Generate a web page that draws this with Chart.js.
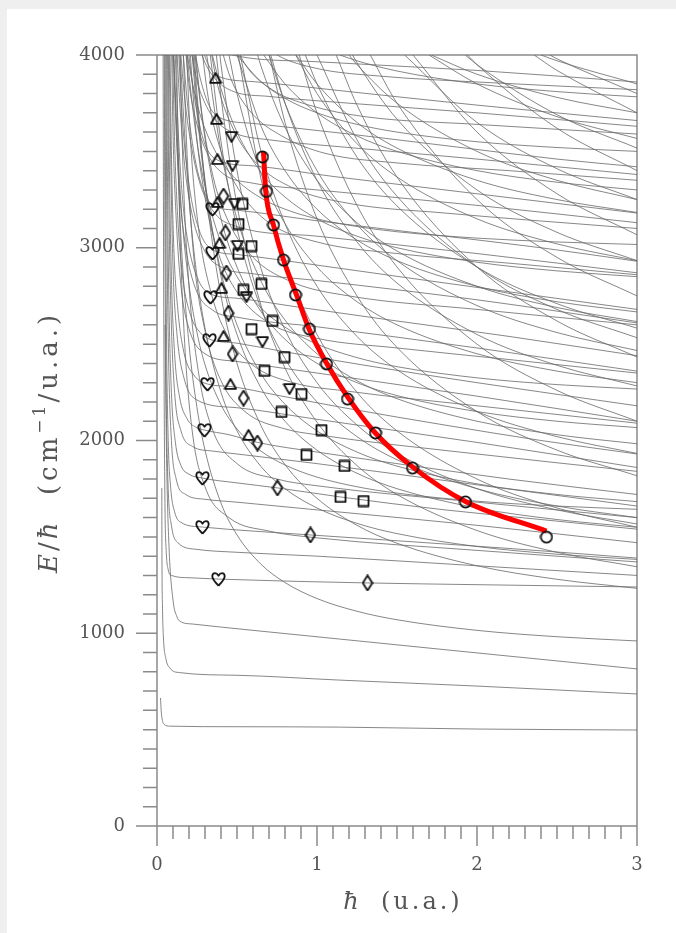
<!DOCTYPE html>
<html><head><meta charset="utf-8">
<script src="https://cdn.jsdelivr.net/npm/chart.js@4"></script>
<style>
html,body{margin:0;padding:0;background:#efefef;overflow:hidden;}
#panel{position:absolute;left:7px;top:9px;width:669px;height:924px;background:#fff;}
#c{position:absolute;left:0;top:0;}
</style></head><body><div id="panel"></div><canvas id="c" width="676" height="933"></canvas>
<script>
// ---- axis ranges / tick labels ----
const xTickValues = [0, 1, 2, 3];
const yTickValues = [0, 1000, 2000, 3000, 4000];

// ---- gray level curves: flat-ish levels [hbar, E/hbar] ----
const H1 = [[0.022,664],[0.026,600],[0.032,555],[0.045,527],[0.08,518],[0.5,515],[1.14,513],[2.0,503],[3.0,498]];
const H2 = [[0.030,1753],[0.031,1400],[0.034,1150],[0.04,980],[0.055,870],[0.08,820],[0.14,796],[0.5,782],[1.14,757],[2.0,726],[3.0,685]];
const H3 = [[0.05,2600],[0.06,1900],[0.075,1450],[0.1,1172],[0.125,1085],[0.153,1058],[0.22,1048],[0.6,1015],[1.14,970],[2.0,898],[3.0,815]];
const H4 = [[0.038,4100],[0.041,3000],[0.045,2200],[0.05,1650],[0.058,1420],[0.07,1330],[0.09,1300],[0.2,1288],[0.384,1281],[1.316,1261],[2.0,1252],[3.0,1240]];
const H5 = [[0.05,4100],[0.054,3200],[0.06,2500],[0.07,2000],[0.085,1760],[0.11,1630],[0.15,1575],[0.284,1551],[0.6,1530],[0.959,1510],[1.5,1480],[2.2,1440],[3.0,1390]];
const H6 = [[0.06,4100],[0.066,3300],[0.075,2700],[0.09,2250],[0.115,1990],[0.15,1870],[0.2,1825],[0.284,1805],[0.5,1780],[0.753,1754],[1.147,1707],[1.8,1640],[2.4,1590],[3.0,1540]];
const H7 = [[0.07,4100],[0.078,3400],[0.09,2850],[0.11,2450],[0.14,2230],[0.19,2110],[0.24,2070],[0.297,2054],[0.45,2030],[0.628,1990],[1.0,1940],[1.5,1880],[2.2,1800],[3.0,1720]];
const H8 = [[0.08,4100],[0.09,3500],[0.105,3000],[0.13,2680],[0.17,2450],[0.23,2340],[0.316,2293],[0.459,2280],[0.75,2235],[1.2,2165],[1.8,2080],[2.4,2000],[3.0,1930]];
const H9 = [[0.095,4100],[0.11,3550],[0.13,3150],[0.16,2850],[0.21,2650],[0.27,2560],[0.33,2525],[0.5,2505],[0.8,2460],[1.3,2390],[2.0,2300],[3.0,2180]];
const H10 = [[0.11,4100],[0.13,3650],[0.16,3250],[0.2,3000],[0.26,2830],[0.335,2760],[0.5,2738],[0.9,2690],[1.5,2620],[2.2,2540],[3.0,2440]];
const H11 = [[0.13,4100],[0.16,3650],[0.2,3330],[0.26,3100],[0.347,2990],[0.5,2965],[1.0,2910],[1.6,2840],[2.3,2760],[3.0,2680]];
const H12 = [[0.155,4100],[0.19,3750],[0.24,3450],[0.3,3280],[0.36,3215],[0.5,3195],[1.0,3140],[1.7,3070],[2.4,3000],[3.0,2930]];
const H13 = [[0.185,4100],[0.23,3800],[0.29,3560],[0.378,3455],[0.6,3425],[1.1,3370],[1.8,3300],[2.5,3230],[3.0,3180]];
const H14 = [[0.22,4100],[0.27,3880],[0.33,3730],[0.4,3672],[0.6,3645],[1.2,3590],[1.9,3520],[2.5,3460],[3.0,3420]];
const H15 = [[0.26,4100],[0.31,3970],[0.37,3895],[0.6,3862],[1.2,3810],[2.0,3740],[3.0,3660]];

// ---- more flat levels read between the marked ones ----
const F1 = [[0.045,4100],[0.05,3000],[0.058,2200],[0.07,1750],[0.09,1560],[0.13,1470],[0.25,1435],[0.5,1420],[1.0,1400],[2.0,1350],[3.0,1300]];
const F2 = [[0.055,4100],[0.062,3100],[0.072,2450],[0.09,2000],[0.12,1800],[0.18,1720],[0.3,1695],[0.5,1680],[1.0,1640],[2.0,1560],[3.0,1470]];
const F3 = [[0.065,4100],[0.075,3200],[0.088,2650],[0.11,2250],[0.15,2050],[0.22,1970],[0.35,1945],[0.5,1930],[1.0,1880],[2.0,1770],[3.0,1660]];
const F4 = [[0.075,4100],[0.087,3400],[0.1,2900],[0.125,2550],[0.17,2320],[0.25,2210],[0.5,2170],[1.0,2110],[2.0,1990],[3.0,1860]];
const F5 = [[0.09,4100],[0.1,3600],[0.12,3150],[0.15,2800],[0.2,2580],[0.3,2450],[0.5,2410],[1.0,2350],[2.0,2230],[3.0,2100]];
const F6 = [[0.1,4100],[0.115,3700],[0.14,3300],[0.18,3000],[0.24,2790],[0.35,2675],[0.5,2640],[1.0,2590],[2.0,2480],[3.0,2360]];
const F7 = [[0.12,4100],[0.14,3780],[0.17,3450],[0.22,3170],[0.3,2980],[0.4,2900],[0.6,2865],[1.0,2830],[2.0,2730],[3.0,2610]];
const F8 = [[0.14,4100],[0.17,3800],[0.21,3550],[0.27,3330],[0.36,3180],[0.5,3110],[1.0,3060],[2.0,2970],[3.0,2870]];
const F9 = [[0.17,4100],[0.2,3850],[0.25,3640],[0.32,3480],[0.42,3380],[0.6,3335],[1.0,3300],[2.0,3220],[3.0,3130]];
const F10 = [[0.2,4100],[0.24,3900],[0.3,3750],[0.38,3650],[0.5,3590],[0.7,3560],[1.2,3520],[2.0,3460],[3.0,3380]];
const F11 = [[0.24,4100],[0.3,3960],[0.37,3870],[0.48,3810],[0.7,3785],[1.2,3750],[2.0,3700],[3.0,3630]];
const F12 = [[0.3,4100],[0.38,4030],[0.5,3995],[1.0,3965],[2.0,3920],[3.0,3860]];
const G1 = [[0.12,4100],[0.14,3200],[0.17,2550],[0.22,2050],[0.3,1760],[0.45,1600],[0.7,1530],[1.0,1495],[2.0,1430],[3.0,1370]];
const G2 = [[0.14,4100],[0.165,3350],[0.2,2800],[0.26,2350],[0.35,2050],[0.5,1880],[0.75,1800],[1.0,1765],[2.0,1680],[3.0,1600]];
const G3 = [[0.16,4100],[0.19,3450],[0.23,2950],[0.3,2570],[0.4,2310],[0.55,2150],[0.8,2060],[1.0,2030],[2.0,1930],[3.0,1840]];
const G4 = [[0.18,4100],[0.21,3550],[0.26,3100],[0.34,2760],[0.45,2530],[0.6,2390],[0.85,2300],[1.2,2255],[2.0,2180],[3.0,2090]];
const G5 = [[0.2,4100],[0.24,3640],[0.3,3260],[0.38,2980],[0.5,2770],[0.7,2610],[1.0,2530],[1.5,2480],[2.2,2420],[3.0,2350]];
const G6 = [[0.23,4100],[0.28,3700],[0.35,3370],[0.45,3130],[0.6,2950],[0.85,2820],[1.2,2750],[2.0,2680],[3.0,2600]];
const G7 = [[0.27,4100],[0.32,3780],[0.4,3500],[0.52,3290],[0.7,3130],[1.0,3030],[1.5,2970],[2.2,2920],[3.0,2860]];
const G8 = [[0.32,4100],[0.38,3840],[0.48,3610],[0.62,3440],[0.85,3310],[1.2,3230],[1.8,3180],[3.0,3100]];
const G9 = [[0.38,4100],[0.46,3880],[0.58,3710],[0.78,3580],[1.05,3490],[1.5,3440],[2.2,3400],[3.0,3350]];
const G10 = [[0.46,4100],[0.56,3940],[0.72,3820],[0.95,3740],[1.3,3680],[2.0,3640],[3.0,3590]];
const G11 = [[0.6,4100],[0.75,4000],[1.0,3930],[1.4,3890],[2.0,3860],[3.0,3820]];

// ---- gray level curves: descending diagonal family ----
const D1 = [[0.105,4000],[0.15,3050],[0.2,2500],[0.25,2170],[0.3,1950],[0.4,1675],[0.5,1510],[0.65,1358],[0.8,1263],[1.0,1180],[1.25,1114],[1.5,1070],[2.0,1015],[2.5,982],[3.0,960]];
const D2 = [[0.371,4000],[0.4,3783],[0.5,3220],[0.65,2701],[0.8,2376],[1.0,2095],[1.25,1870],[1.5,1720],[2.0,1533],[2.5,1420],[3.0,1345]];
const D3 = [[0.233,4000],[0.25,3800],[0.3,3333],[0.4,2750],[0.5,2400],[0.65,2077],[0.8,1875],[1.0,1700],[1.25,1560],[1.5,1467],[2.0,1350],[2.5,1280],[3.0,1233]];
const D4 = [[0.508,4000],[0.65,3358],[0.8,2925],[1.0,2550],[1.25,2250],[1.5,2050],[2.0,1800],[2.5,1650],[3.0,1550]];
const D5 = [[0.145,4000],[0.15,3917],[0.2,3250],[0.25,2850],[0.3,2583],[0.4,2250],[0.5,2050],[0.65,1865],[0.8,1750],[1.0,1650],[1.25,1570],[1.5,1517],[2.0,1450],[2.5,1410],[3.0,1383]];
const D6 = [[0.333,4000],[0.4,3550],[0.5,3100],[0.65,2685],[0.8,2425],[1.0,2200],[1.25,2020],[1.5,1900],[2.0,1750],[2.5,1660],[3.0,1600]];
const D7 = [[0.702,4000],[0.8,3650],[1.0,3150],[1.25,2750],[1.5,2483],[2.0,2150],[2.5,1950],[3.0,1817]];
const D8 = [[0.22,4000],[0.25,3700],[0.3,3333],[0.4,2875],[0.5,2600],[0.65,2346],[0.8,2188],[1.0,2050],[1.25,1940],[1.5,1867],[2.0,1775],[2.5,1720],[3.0,1683]];
const D9 = [[0.52,4000],[0.65,3500],[0.8,3125],[1.0,2800],[1.25,2540],[1.5,2367],[2.0,2150],[2.5,2020],[3.0,1933]];
const D10 = [[0.889,4000],[1.0,3700],[1.25,3220],[1.5,2900],[2.0,2500],[2.5,2260],[3.0,2100]];
const D11 = [[0.311,4000],[0.4,3500],[0.5,3150],[0.65,2827],[0.8,2625],[1.0,2450],[1.25,2310],[1.5,2217],[2.0,2100],[2.5,2030],[3.0,1983]];
const D12 = [[0.711,4000],[0.8,3750],[1.0,3350],[1.25,3030],[1.5,2817],[2.0,2550],[2.5,2390],[3.0,2283]];
const D13 = [[1.12,4000],[1.25,3740],[1.5,3367],[2.0,2900],[2.5,2620],[3.0,2433]];
const D14 = [[0.45,4000],[0.5,3800],[0.65,3385],[0.8,3125],[1.0,2900],[1.25,2720],[1.5,2600],[2.0,2450],[2.5,2360],[3.0,2300]];
const D15 = [[0.927,4000],[1.0,3850],[1.25,3470],[1.5,3217],[2.0,2900],[2.5,2710],[3.0,2583]];
const D16 = [[1.333,4000],[1.5,3750],[2.0,3250],[2.5,2950],[3.0,2750]];
const D17 = [[0.629,4000],[0.65,3942],[0.8,3625],[1.0,3350],[1.25,3130],[1.5,2983],[2.0,2800],[2.5,2690],[3.0,2617]];
const D18 = [[1.222,4000],[1.25,3960],[1.5,3667],[2.0,3300],[2.5,3080],[3.0,2933]];
const D19 = [[1.6,4000],[2.0,3600],[2.5,3280],[3.0,3067]];
const D20 = [[0.867,4000],[1.0,3800],[1.25,3540],[1.5,3367],[2.0,3150],[2.5,3020],[3.0,2933]];
const D21 = [[1.548,4000],[2.0,3650],[2.5,3410],[3.0,3250]];
const D22 = [[1.941,4000],[2.0,3950],[2.5,3620],[3.0,3400]];
const D23 = [[1.2,4000],[1.25,3950],[1.5,3750],[2.0,3500],[2.5,3350],[3.0,3250]];
const D24 = [[1.926,4000],[2.0,3950],[2.5,3690],[3.0,3517]];
const D25 = [[2.357,4000],[2.5,3920],[3.0,3700]];
const D26 = [[1.7,4000],[2.0,3850],[2.5,3680],[3.0,3567]];
const D27 = [[2.455,4000],[2.5,3980],[3.0,3800]];
const D28 = [[2.4,4000],[2.5,3970],[3.0,3850]];
const D29 = [[0.102,4000],[0.15,3227],[0.2,2810],[0.25,2560],[0.3,2393],[0.4,2185],[0.5,2060],[0.65,1945],[0.8,1873],[1.0,1810],[1.25,1760],[1.5,1727],[2.0,1685],[2.5,1660],[3.0,1643]];
const D30 = [[0.189,4000],[0.2,3900],[0.25,3550],[0.3,3317],[0.4,3025],[0.5,2850],[0.65,2688],[0.8,2588],[1.0,2500],[1.25,2430],[1.5,2383],[2.0,2325],[2.5,2290],[3.0,2267]];
const D31 = [[0.346,4000],[0.4,3825],[0.5,3600],[0.65,3392],[0.8,3263],[1.0,3150],[1.25,3060],[1.5,3000],[2.0,2925],[2.5,2880],[3.0,2850]];
const D32 = [[0.667,4000],[0.8,3850],[1.0,3700],[1.25,3580],[1.5,3500],[2.0,3400],[2.5,3340],[3.0,3300]];
const D33 = [[0.5,4000],[0.65,3862],[0.8,3775],[1.0,3700],[1.25,3640],[1.5,3600],[2.0,3550],[2.5,3520],[3.0,3500]];
const D34 = [[0.19,4000],[0.2,3950],[0.25,3750],[0.3,3617],[0.4,3450],[0.5,3350],[0.65,3258],[0.8,3200],[1.0,3150],[1.25,3110],[1.5,3083],[2.0,3050],[2.5,3030],[3.0,3017]];
const D35 = [[0.238,4000],[0.25,3900],[0.3,3567],[0.4,3150],[0.5,2900],[0.65,2669],[0.8,2525],[1.0,2400],[1.25,2300],[1.5,2233],[2.0,2150],[2.5,2100],[3.0,2067]];
const D36 = [[0.5,4000],[0.65,3631],[0.8,3400],[1.0,3200],[1.25,3040],[1.5,2933],[2.0,2800],[2.5,2720],[3.0,2667]];
const D37 = [[0.87,4000],[1.0,3850],[1.25,3650],[1.5,3517],[2.0,3350],[2.5,3250],[3.0,3183]];
const D38 = [[1.714,4000],[2.0,3900],[2.5,3780],[3.0,3700]];
const D39 = [[1.143,4000],[1.25,3970],[1.5,3917],[2.0,3850],[2.5,3810],[3.0,3783]];
const D40 = [[0.393,4000],[0.4,3950],[0.5,3400],[0.65,2892],[0.8,2575],[1.0,2300],[1.25,2080],[1.5,1933],[2.0,1750],[2.5,1640],[3.0,1567]];
const D41 = [[1.0,4000],[1.25,3560],[1.5,3267],[2.0,2900],[2.5,2680],[3.0,2533]];
const D42 = [[0.7,4000],[0.8,3750],[1.0,3400],[1.25,3120],[1.5,2933],[2.0,2700],[2.5,2560],[3.0,2467]];
const D43 = [[0.226,4000],[0.25,3750],[0.3,3350],[0.4,2850],[0.5,2550],[0.65,2273],[0.8,2100],[1.0,1950],[1.25,1830],[1.5,1750],[2.0,1650],[2.5,1590],[3.0,1550]];

// ---- red curve ----
const redX = [0.666,0.678,0.728,0.791,0.872,0.953,1.059,1.191,1.359,1.597,1.934,2.434];
const redY = [3497,3310,3118,2936,2755,2573,2402,2226,2044,1863,1681,1530];

// ---- markers ----
const heartX = [0.384,0.284,0.284,0.297,0.316,0.328,0.334,0.347,0.347];
const heartY = [1281,1551,1805,2054,2293,2521,2744,2973,3201];
const diamondX = [1.316,0.959,0.753,0.628,0.541,0.472,0.447,0.434,0.428,0.416];
const diamondY = [1261,1510,1754,1987,2220,2449,2661,2869,3077,3268];
const upTriX = [0.366,0.372,0.378,0.378,0.391,0.403,0.416,0.459,0.572];
const upTriY = [3881,3668,3460,3237,3025,2791,2542,2293,2029];
const downTriX = [0.466,0.472,0.484,0.503,0.559,0.659,0.828];
const downTriY = [3575,3425,3228,3010,2744,2511,2267];
const squareX = [0.534,0.509,0.591,0.509,0.653,0.541,0.722,0.591,0.797,0.672,0.903,0.778,1.028,0.934,1.172,1.147,1.291];
const squareY = [3227,3123,3009,2968,2812,2781,2620,2578,2433,2361,2241,2148,2054,1925,1868,1707,1686];
const circleX = [0.659,0.684,0.728,0.791,0.866,0.953,1.059,1.191,1.366,1.597,1.928,2.434];
const circleY = [3471,3292,3118,2936,2755,2578,2397,2215,2039,1857,1681,1499];

const levelCurves = [H1,H2,H3,H4,H5,H6,H7,H8,H9,H10,H11,H12,H13,H14,H15,
  F1,F2,F3,F4,F5,F6,F7,F8,F9,F10,F11,F12,G1,G2,G3,G4,G5,G6,G7,G8,G9,G10,G11,
  D1,D2,D3,D4,D5,D6,D7,D8,D9,D10,D11,D12,D13,D14,D15,D16,D17,D18,D19,D20,D21,D22,
  D23,D24,D25,D26,D27,D28,D29,D30,D31,D32,D33,D34,D35,D36,D37,D38,D39,D40,D41,D42,D43];

// ---- marker glyphs ----
function glyph(w, h, draw) {
  const c = document.createElement('canvas'); c.width = w; c.height = h;
  const g = c.getContext('2d'); g.strokeStyle = '#111'; g.lineWidth = 1.8; g.lineJoin = 'round';
  g.beginPath(); draw(g); g.stroke(); return c;
}
const heartImg = glyph(15, 16, g => { g.moveTo(7.5,14.5); g.bezierCurveTo(3.5,10.5,1.2,8,1.3,5); g.bezierCurveTo(1.5,1.6,5.6,0.9,7.5,4.6); g.bezierCurveTo(9.4,0.9,13.5,1.6,13.7,5); g.bezierCurveTo(13.8,8,11.5,10.5,7.5,14.5); });
const diamondImg = glyph(12, 17, g => { g.moveTo(6,1); g.lineTo(10.8,8.5); g.lineTo(6,16); g.lineTo(1.2,8.5); g.closePath(); });
const squareImg = glyph(13, 13, g => { g.rect(1.5,1.5,10,10); });
const circleImg = glyph(14, 14, g => { g.arc(7,7,5.6,0,Math.PI*2); });
const upTriImg = glyph(14, 12, g => { g.moveTo(7,1); g.lineTo(12.6,10.8); g.lineTo(1.4,10.8); g.closePath(); });
const downTriImg = glyph(14, 12, g => { g.moveTo(1.4,1.2); g.lineTo(12.6,1.2); g.lineTo(7,11); g.closePath(); });

const zip = (xs, ys) => xs.map((x, i) => ({x, y: ys[i]}));
const pairs = arr => arr.map(p => ({x: p[0], y: p[1]}));

const datasets = [];
const markerSets = [[heartX,heartY,heartImg],[diamondX,diamondY,diamondImg],[upTriX,upTriY,upTriImg],
  [downTriX,downTriY,downTriImg],[squareX,squareY,squareImg],[circleX,circleY,circleImg]];
markerSets.forEach(([xs, ys, img]) => datasets.push({
  data: zip(xs, ys), showLine: false, pointStyle: img, pointRadius: 6, order: 0
}));
datasets.push({ data: zip(redX, redY), showLine: true, borderColor: '#ff0000', borderWidth: 5,
  pointRadius: 0, cubicInterpolationMode: 'monotone', order: 1, borderCapStyle: 'butt' });
levelCurves.forEach(c => datasets.push({ data: pairs(c), showLine: true, borderColor: 'rgba(105,105,105,0.8)',
  borderWidth: 1, pointRadius: 0, cubicInterpolationMode: 'monotone', order: 2 }));

const AXIS = '#8a8a8a', TXT = '#555555';
const frame = {
  id: 'frame',
  beforeDatasetsDraw(chart) {
    const {ctx, chartArea: a, scales: {x, y}} = chart;
    ctx.save(); ctx.strokeStyle = AXIS; ctx.lineWidth = 1.5; ctx.beginPath();
    ctx.rect(a.left, a.top, a.right - a.left, a.bottom - a.top);
    for (let v = 0; v <= 4000; v += 100) {
      const py = y.getPixelForValue(v); const len = v % 1000 === 0 ? 21 : 14;
      ctx.moveTo(a.left - len, py); ctx.lineTo(a.left, py);
    }
    for (let i = 0; i <= 30; i++) {
      const px = x.getPixelForValue(i / 10); const len = i % 10 === 0 ? 20 : 13;
      ctx.moveTo(px, a.bottom); ctx.lineTo(px, a.bottom + len);
    }
    ctx.stroke(); ctx.restore();
  },
  afterDraw(chart) {
    const ctx = chart.ctx;
    function drawSegs(segs, cx, cy, rot) {
      ctx.save(); ctx.translate(cx, cy); ctx.rotate(rot); ctx.fillStyle = TXT;
      ctx.textBaseline = 'alphabetic';
      let total = 0;
      segs.forEach(s => { ctx.font = s.f; ctx.letterSpacing = s.ls || '0px'; s.w = ctx.measureText(s.t).width; total += s.w; });
      let px = -total / 2;
      segs.forEach(s => { ctx.font = s.f; ctx.letterSpacing = s.ls || '0px'; ctx.fillText(s.t, px, s.dy || 0); px += s.w; });
      ctx.restore();
    }
    const R = '26px "DejaVu Serif"', I = 'italic 26px "DejaVu Serif"';
    drawSegs([{t:'E', f:I, ls:'3px'}, {t:'/', f:R, ls:'3px'}, {t:'ħ', f:I, ls:'3px'}, {t:'  (cm', f:R, ls:'4px'},
      {t:'−1', f:'17px "DejaVu Serif"', dy:-12, ls:'3px'}, {t:'/u.a.)', f:R, ls:'4px'}], 57, 442, -Math.PI/2);
    drawSegs([{t:'ħ', f:'italic 24px "DejaVu Serif"', ls:'1px'}, {t:'  (u.a.)', f:'24px "DejaVu Serif"', ls:'3px'}], 403, 909, 0);
  }
};

new Chart(document.getElementById('c'), {
  type: 'scatter',
  data: { datasets },
  options: {
    responsive: false, animation: false, events: [],
    layout: { padding: { left: 0, right: 39, top: 55, bottom: 0 } },
    plugins: { legend: { display: false }, tooltip: { enabled: false } },
    scales: {
      x: { type: 'linear', min: 0, max: 3,
        afterBuildTicks: s => { s.ticks = xTickValues.map(v => ({value: v})); },
        grid: { display: false, drawTicks: false }, border: { display: false },
        ticks: { padding: 29, color: TXT, maxRotation: 0, callback: v => String(v), font: { family: 'DejaVu Serif', size: 18 } },
        afterFit: s => { s.height = 107; } },
      y: { type: 'linear', min: 0, max: 4000,
        afterBuildTicks: s => { s.ticks = yTickValues.map(v => ({value: v})); },
        grid: { display: false, drawTicks: false }, border: { display: false },
        ticks: { padding: 32, color: TXT, callback: v => String(v), font: { family: 'DejaVu Serif', size: 18 } },
        afterFit: s => { s.width = 157; } }
    }
  },
  plugins: [frame]
});
</script></body></html>
